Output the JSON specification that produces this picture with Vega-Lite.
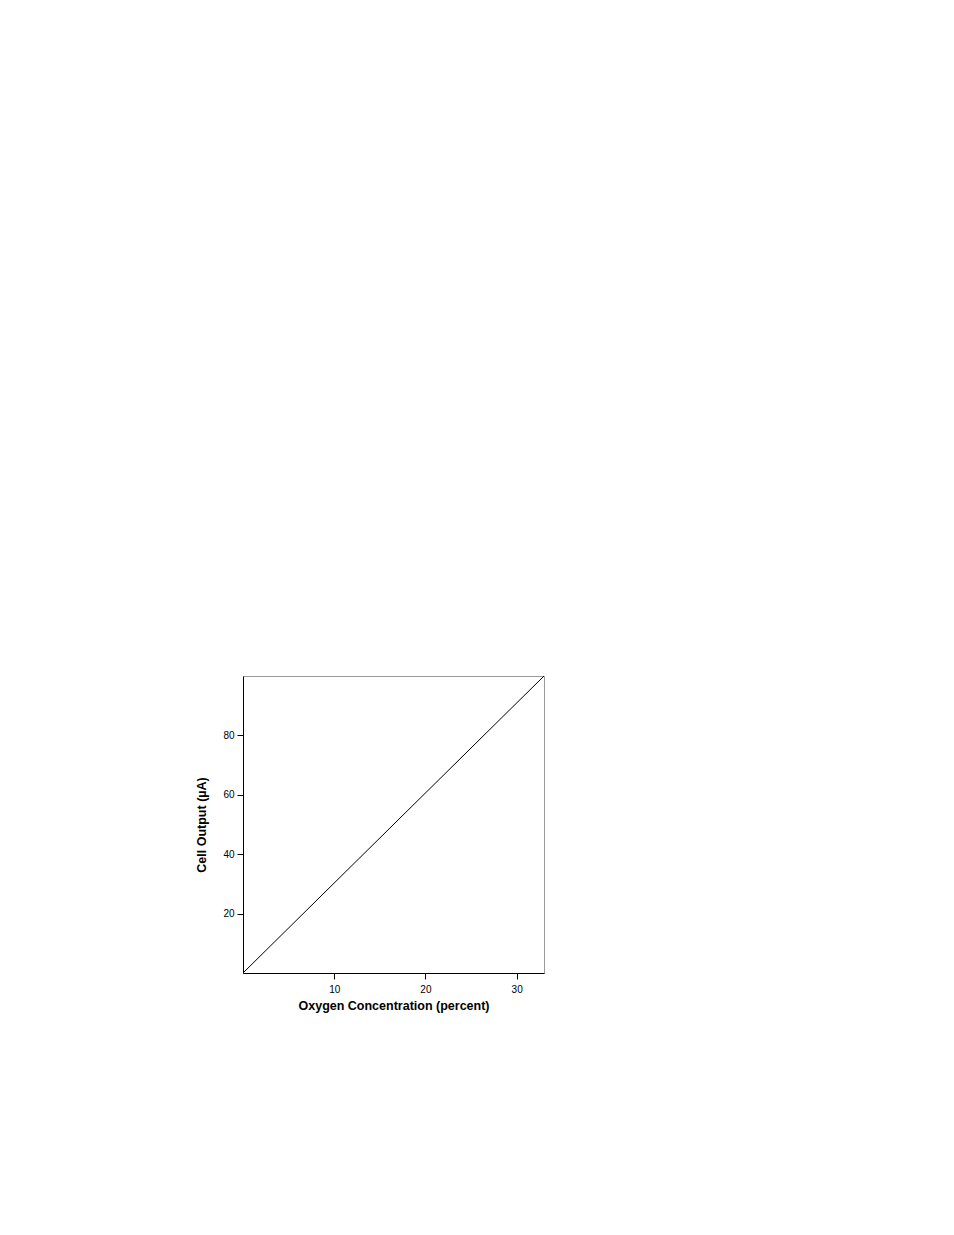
{
  "$schema": "https://vega.github.io/schema/vega-lite/v6.json",
  "autosize": {"type": "none"},
  "width": 301,
  "height": 297,
  "padding": {"left": 243, "top": 676, "right": 410, "bottom": 262},
  "background": "white",
  "config": {
    "view": {"stroke": "#9a9a9a", "strokeWidth": 1},
    "font": "Liberation Sans"
  },
  "data": {"values": [
    {"oxygen": 0, "output": 0},
    {"oxygen": 33, "output": 100}
  ]},
  "mark": {"type": "line", "color": "black", "strokeWidth": 1, "clip": true},
  "encoding": {
    "x": {
      "field": "oxygen", "type": "quantitative",
      "scale": {"domain": [0, 33], "nice": false, "zero": true},
      "axis": {
        "title": "Oxygen Concentration (percent)",
        "values": [10, 20, 30],
        "grid": false,
        "domainColor": "black",
        "tickColor": "black",
        "tickSize": 6,
        "labelFontSize": 10,
        "labelColor": "black",
        "labelPadding": 5,
        "titleFontSize": 12.5,
        "titleFontWeight": "bold",
        "titleColor": "black",
        "titlePadding": 5
      }
    },
    "y": {
      "field": "output", "type": "quantitative",
      "scale": {"domain": [0, 100], "nice": false},
      "axis": {
        "title": "Cell Output (µA)",
        "values": [20, 40, 60, 80],
        "grid": false,
        "domainColor": "black",
        "tickColor": "black",
        "tickSize": 6,
        "labelFontSize": 10,
        "labelColor": "black",
        "labelPadding": 3,
        "titleFontSize": 12.5,
        "titleFontWeight": "bold",
        "titleColor": "black",
        "titlePadding": 14
      }
    }
  }
}
